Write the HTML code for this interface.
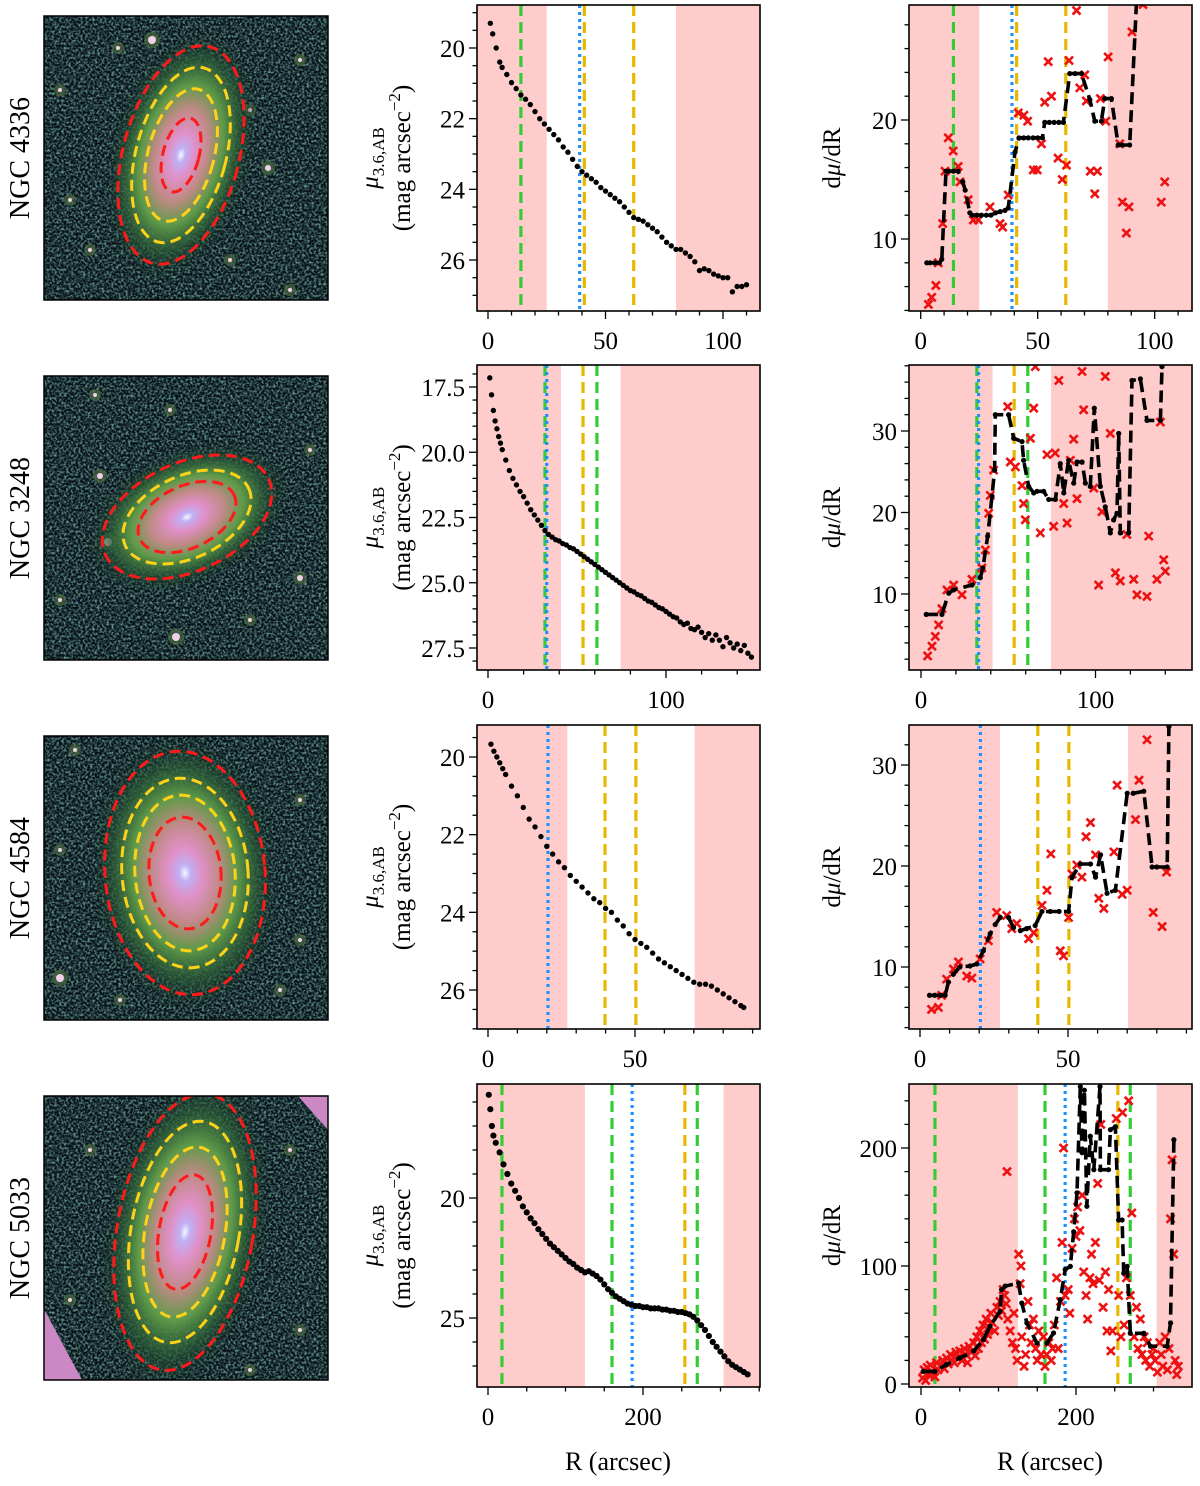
<!DOCTYPE html>
<html><head><meta charset="utf-8"><style>
html,body{margin:0;padding:0;background:#fff}
svg{display:block;font-family:"Liberation Serif",serif}
</style></head><body>
<svg id="fig" width="1200" height="1486" viewBox="0 0 1200 1486" xmlns="http://www.w3.org/2000/svg">
<defs>
<filter id="noise" x="0" y="0" width="100%" height="100%">
<feTurbulence type="fractalNoise" baseFrequency="0.42" numOctaves="2" seed="7"/>
<feColorMatrix values="0 0 0 0 0.13  0 0 0 0 0.33  0 0 0 0 0.27  2.6 0 0 0 -1.05"/>
</filter>
<radialGradient id="glow">
<stop offset="0" stop-color="#f4f8ff"/>
<stop offset="0.06" stop-color="#c0b0f4"/>
<stop offset="0.18" stop-color="#e090c8"/>
<stop offset="0.36" stop-color="#c08a86"/>
<stop offset="0.55" stop-color="#5e9a48"/>
<stop offset="0.75" stop-color="#2e6038" stop-opacity="0.75"/>
<stop offset="1" stop-color="#163028" stop-opacity="0"/>
</radialGradient>
</defs>
</svg>
<script>
// ---------- DATA ----------
const R1P_R=[1,2,3.5,5,6,8,10,12,14,16,18,20,22,24,26,28,30,32,34,36,38,40,42,44,46,48,50,52,54,56,58,60,62,64,66,68,70,72,74,76,78,80,82,84,86,88,90,92,94,96,98,100,102,104,106,108,110];
const R1P_MU=[19.3,19.6,20.0,20.4,20.55,20.75,20.98,21.15,21.33,21.45,21.6,21.8,22.0,22.15,22.3,22.45,22.6,22.8,22.95,23.15,23.35,23.5,23.6,23.7,23.8,23.95,24.05,24.15,24.25,24.35,24.5,24.65,24.8,24.85,24.9,25.0,25.1,25.2,25.35,25.5,25.6,25.7,25.7,25.8,25.9,26.05,26.3,26.25,26.3,26.4,26.45,26.5,26.5,26.9,26.75,26.75,26.7];
const R2P_R=[1,2,3,4,5,6,7,8,10,12,14,16,18,20,22,24,26,28,30,32,34,36,38,40,42,44,46,48,50,52,54,56,58,60,62,64,66,68,70,72,74,76,78,80,82,84,86,88,90,92,94,96,98,100,102,104,106,108,110,112,114,116,118,120,122,124,126,128,130,132,134,136,138,140,142,144,146,148];
const R2P_MU=[17.15,17.8,18.4,18.8,19.1,19.4,19.65,19.9,20.3,20.7,21.0,21.25,21.5,21.7,21.95,22.2,22.4,22.6,22.8,23.0,23.15,23.25,23.35,23.4,23.5,23.55,23.65,23.7,23.8,23.9,24.0,24.1,24.2,24.3,24.4,24.5,24.6,24.7,24.8,24.9,25.0,25.1,25.2,25.3,25.35,25.45,25.5,25.6,25.7,25.75,25.85,25.95,26.0,26.1,26.2,26.3,26.35,26.5,26.6,26.55,26.75,26.8,26.7,26.9,27.1,26.95,27.2,27.0,27.2,27.45,27.1,27.3,27.5,27.35,27.6,27.4,27.7,27.85];
const R3P_R=[1,2,3,4,5,6,8,10,12,14,16,18,20,22,24,26,28,30,32,34,36,38,40,42,44,46,48,50,52,54,56,58,60,62,64,66,68,70,72,74,76,78,80,82,84,86,87];
const R3P_MU=[19.67,19.85,20.0,20.15,20.3,20.45,20.75,21.0,21.3,21.6,21.8,22.05,22.3,22.5,22.7,22.85,23.05,23.2,23.35,23.5,23.65,23.75,23.9,24.0,24.2,24.35,24.55,24.7,24.8,24.9,25.05,25.2,25.3,25.4,25.5,25.6,25.7,25.8,25.85,25.85,25.9,26.0,26.1,26.2,26.3,26.4,26.45];
const R4P_R=[1,3,5,7,10,15,20,25,30,35,40,45,50,55,60,65,70,75,80,85,90,95,100,105,110,115,120,125,130,135,140,145,150,155,160,165,170,175,180,185,190,195,200,205,210,215,220,225,230,235,240,245,250,255,260,265,270,275,280,285,290,295,300,305,310,315,320,325,330,335];
const R4P_MU=[15.7,16.3,17.0,17.4,17.7,18.1,18.6,19.0,19.4,19.7,20.0,20.35,20.6,20.85,21.05,21.3,21.5,21.7,21.9,22.05,22.2,22.35,22.5,22.65,22.75,22.9,23.0,23.1,23.05,23.15,23.25,23.4,23.6,23.8,23.95,24.1,24.2,24.3,24.4,24.45,24.5,24.5,24.55,24.55,24.6,24.6,24.6,24.65,24.65,24.7,24.7,24.75,24.75,24.8,24.85,24.95,25.1,25.3,25.5,25.75,26.0,26.2,26.4,26.6,26.8,26.95,27.05,27.15,27.25,27.35];

const R1D_R=[2.6,4,6,8,9,10.8,12,14,16,18,19,21,22,24,26,28,30,32,34,36,37.4,40.3,42,44,46,48,50,52,53,55,57,59,61,63.7,66,68.7,72.3,74.4,77.2,78.7,81.5,84.4,86,89.3,92.2];
const R1D_V=[8,8,8,8,8.3,15.7,15.7,15.7,15.7,14.8,14.1,12.2,12,12,12,12,12,12.2,12.3,12.4,12.6,17.3,18.5,18.5,18.5,18.5,18.5,18.5,19.8,19.8,19.8,19.8,19.8,23.9,23.9,23.9,21.7,19.9,19.9,21.8,21.8,17.9,17.9,17.9,29.8];
const R1X=[[3.3,4.5],[4.7,5.1],[6.5,6.1],[7.5,8],[9.4,11.3],[10.4,15.7],[11.8,18.5],[13.9,17.4],[16,16.1],[16.8,14.8],[20.3,13.3],[22.5,11.6],[24.6,11.6],[29.6,12.7],[33.9,11.3],[35,11],[37.4,13.7],[41.7,20.6],[44.1,20.4],[45.7,19.9],[48.1,15.8],[49.8,15.8],[51.6,18],[53,21.5],[55.9,22],[54.5,24.9],[58.7,16.8],[60.5,15],[62.3,16.2],[63.4,25],[66.6,29.2],[68,22.7],[70.1,23.8],[70.8,21.6],[72.5,15.7],[74.4,13.8],[75.5,15.7],[76.8,21.8],[79.1,19.9],[80.1,25.3],[85.1,18],[86.2,13.1],[89,12.7],[87.9,10.5],[90.3,27.4],[95,29.7],[102.8,13.1],[104.3,14.8]];

const R2D_R=[3,12,15.9,18.7,29.2,34,35.5,38.2,40.7,42.2,42.6,50.2,53.1,57.9,58.8,61.7,64.6,66.5,70.3,73.2,77,79.8,81.8,84.6,87.5,89.4,92.3,94.2,97,99.3,102.8,105.6,108.5,110.4,112.3,113.3,114.2,119,120.9,125.7,129.5,137.2,138.1];
const R2D_V=[7.5,7.5,10.1,10.5,11.1,12,13.2,17.1,22,25.2,32,32,29.1,28.7,26.4,23.2,22.4,22.6,22.6,21.6,21.6,26,22.4,26.4,23.6,26.2,26.2,23.6,23.2,32.8,23.2,20.7,17.5,19.1,19.9,29.7,17.5,17.5,36.2,36.4,31.3,31.3,37.9];
const R2X=[[3.8,2.4],[6.3,3.6],[8.2,4.8],[10.1,6.2],[12,8.2],[14.9,10.5],[18.7,11.1],[23.5,9.9],[29.2,11.8],[34.9,13.2],[36.9,15.4],[38.8,19.9],[39.7,22.1],[41.6,25.2],[49.7,33],[51.2,26.2],[54.1,25.6],[57.9,23.3],[58.8,21.1],[59.8,19.1],[62.7,29.1],[64.6,32.8],[65.5,37.9],[68.4,17.5],[72.2,27.1],[76,18.3],[76.9,27.3],[79,36.2],[81.8,21.1],[83.7,18.7],[85.6,26.4],[87.5,29],[89.4,21.7],[92.3,37.3],[93.2,32.6],[99,23],[101.8,11.1],[103.7,20.1],[105.6,36.7],[108.5,29.7],[111.4,12.6],[114.2,11.6],[118,17.3],[121.9,11.8],[123.8,9.9],[129.5,9.7],[130.5,17.1],[135.2,11.8],[139.1,14.2],[140,12.8],[137.2,31.1]];

const R3D_R=[3.2,5,7,8.5,9.6,11.3,13.5,16.9,19.2,21.4,23.7,25.4,27.1,29.9,31.6,33.9,36,38.9,41.2,44,47,50.2,51.4,54.2,57.6,59.3,61,63.2,66,70,72,75.6,78.4,80,83.5,84.1];
const R3D_V=[7.2,7.2,7.2,7.2,8.5,9.3,10,10.1,10.3,11.6,13.3,14.2,14.9,14.9,13.9,13.6,13.8,14.1,15.5,15.5,15.5,15.5,18.9,20.2,20.2,18.9,21.1,17.3,17.6,27.2,27.2,27.4,19.9,19.9,19.9,33.8];
const R3X=[[3.9,5.8],[6.2,6],[7.3,7.2],[9,8.8],[11.3,9.8],[13,10.5],[15.8,9.1],[17.5,8.9],[20.3,10.8],[23.1,12.6],[25.9,15.4],[29.3,15.1],[31,13.8],[32.7,14.3],[36.7,12.8],[38.4,13.4],[41.2,16.1],[42.9,17.6],[44.2,21.2],[47.4,11.6],[48.5,11.1],[50.2,14.9],[51.4,19.2],[53,20.1],[54.7,18.9],[56.1,22.9],[57.6,24.3],[59.3,21.1],[60.4,16.8],[62.1,15.8],[65.5,21.4],[66.6,28],[68.3,17.2],[70,17.6],[72.8,24.6],[74,28.5],[76.7,32.5],[78.8,15.4],[81.8,14],[83.3,19.4]];

const R4D_R=[3,18,33,50,68,80.6,89,102,104,108.6,126,130,136.6,149.6,162.5,171,179.7,186,192.7,197,201.3,205.6,207.8,210.8,214,218.5,223,231,231.5,242,244.4,250.9,255,259.5,261.6,266,270,287.5,296,317.7,322,326.3];
const R4D_V=[10.7,10.7,16.4,22,28,37.6,49,61.6,80,83,85.6,68.6,51.7,34.7,34.7,43.2,71.5,97,99.7,129,162,252,196,249,150.6,210,181.6,252,181.6,181.6,215.5,218,139,139,94,99.7,43,43,32,32,51.7,207];
const R4X=[[2,5],[4,12],[6,3],[8,14],[10,8],[12,16],[15,10],[18,6],[20,18],[22,12],[25,15],[28,20],[30,13],[33,22],[35,17],[38,25],[40,20],[43,18],[45,27],[48,22],[50,28],[53,20],[56,30],[58,25],[60,18],[62,32],[65,27],[68,35],[70,24],[72,40],[74,30],[76,45],[78,35],[80,50],[82,38],[84,55],[86,42],[88,48],[90,60],[92,52],[95,45],[98,65],[100,58],[102,70],[104,62],[106,80],[108,75],[110,68],[111,180],[112,55],[115,45],[118,35],[120,60],[122,30],[124,20],[126,110],[128,85],[129,100],[130,40],[133,15],[135,25],[138,70],[140,50],[142,35],[145,55],[148,30],[150,20],[152,45],[155,25],[158,40],[160,15],[162,25],[165,35],[168,20],[170,30],[172,50],[175,90],[177,30],[180,70],[182,120],[184,200],[186,75],[190,80],[192,60],[195,115],[198,140],[200,125],[202,150],[205,130],[208,160],[210,95],[213,75],[215,55],[218,90],[220,110],[222,85],[225,120],[228,170],[230,88],[232,220],[235,65],[238,95],[240,45],[242,80],[245,28],[247,45],[250,260],[252,225],[255,75],[258,40],[260,230],[262,50],[265,90],[268,240],[270,75],[272,145],[275,40],[278,65],[280,30],[283,55],[285,25],[288,40],[290,20],[292,35],[295,15],[298,25],[300,30],[302,20],[305,10],[308,35],[310,25],[312,15],[315,40],[318,12],[320,30],[322,140],[324,190],[326,110],[328,20],[330,8],[332,15]];

const SPANS=[[25,80],[41,74.5],[27,70.3],[125,304]];
const VL_POS=[[14,39,41,62],[32,33,53.4,61.2],[20.4,39.8,50.3],[18,160,186,254,270]];
const VL_KIND=[["g","b","y","y"],["g","b","y","g"],["b","y","y"],["g","g","b","y","g"]];
const NAMES=["NGC 4336","NGC 3248","NGC 4584","NGC 5033"];

// ---------- LAYOUT ----------
const ROWS=[
 {y0:5,y1:311,img:16},
 {y0:365,y1:670,img:376},
 {y0:725,y1:1029,img:736},
 {y0:1084,y1:1387,img:1096}];
const P2=[
 {xa:[0,488,100,723],ya:[20,48,26,260],xmaj:50,xmin:10,ymaj:2,ymin:0.5,dec:0},
 {xa:[0,488,100,666],ya:[17.5,387,27.5,648],xmaj:100,xmin:20,ymaj:2.5,ymin:0.5,dec:1},
 {xa:[0,488,50,635],ya:[20,757,26,990],xmaj:50,xmin:10,ymaj:2,ymin:0.5,dec:0},
 {xa:[0,488,200,643],ya:[20,1198,25,1318],xmaj:200,xmin:50,ymaj:5,ymin:1,dec:0}];
const P3=[
 {xa:[0,920.7,50,1037.7],ya:[20,120,10,239],xmaj:50,xmin:10,ymaj:10,ymin:2,dec:0},
 {xa:[0,921,100,1095.5],ya:[30,431,10,594],xmaj:100,xmin:20,ymaj:10,ymin:2,dec:0},
 {xa:[0,920,50,1068],ya:[30,765,10,967],xmaj:50,xmin:10,ymaj:10,ymin:2,dec:0},
 {xa:[0,921,200,1076],ya:[0,1384,200,1148],xmaj:200,xmin:50,ymaj:100,ymin:20,dec:0}];
const IMGS=[
 {cx:181,cy:155,ang:15,glow:[72,130],el:[[58,112,"r"],[45,90,"y"],[33,68,"y"],[18,38,"r"]],stars:[[152,40,4],[268,168,3],[60,90,2],[300,60,2],[230,260,2],[90,250,2],[290,290,2],[70,200,2],[250,110,2],[118,48,2]]},
 {cx:187,cy:517,ang:-25,glow:[108,68],el:[[90,54,"r"],[68,41,"y"],[52,31,"r"]],stars:[[108,542,4],[176,637,4],[100,476,3],[300,578,3],[95,395,2],[170,410,2],[310,450,2],[250,620,2],[60,600,2]]},
 {cx:185,cy:873,ang:-5,glow:[95,140],el:[[80,122,"r"],[63,95,"y"],[50,78,"y"],[36,56,"r"]],stars:[[60,978,4],[75,750,2],[300,800,2],[280,990,2],[120,1000,2],[300,940,2],[60,850,2]]},
 {cx:185,cy:1232,ang:10,glow:[82,162],el:[[68,140,"r"],[54,112,"y"],[40,86,"y"],[26,58,"r"]],stars:[[70,1300,2],[290,1150,2],[300,1330,2],[90,1150,2],[250,1370,2]]}];
const COLS={g:"#33cc33",b:"#1e90ff",y:"#e8b800",r:"#ff1a1a"};

const NS="http://www.w3.org/2000/svg";
const svg=document.getElementById("fig");
function mk(tag,attrs,parent){const e=document.createElementNS(NS,tag);for(const k in attrs)e.setAttribute(k,attrs[k]);(parent||svg).appendChild(e);return e;}
function lin(a){return v=>a[1]+(v-a[0])*(a[3]-a[1])/(a[2]-a[0]);}
function inv(a){return p=>a[0]+(p-a[1])*(a[2]-a[0])/(a[3]-a[1]);}

function drawAxes(g,cfg,x0,x1,y0,y1,ri){
  const X=lin(cfg.xa),Y=lin(cfg.ya),IX=inv(cfg.xa),IY=inv(cfg.ya);
  const bg=mk("rect",{x:x0,y:y0,width:x1-x0,height:y1-y0,fill:"#ffcccc"},g);
  
  
  const wx0=Math.max(x0,X(SPANS[ri][0])),wx1=Math.min(x1,X(SPANS[ri][1]));
  const wr=mk("rect",{x:wx0,y:y0,width:wx1-wx0,height:y1-y0,fill:"#ffffff"},g);
  
  
  VL_POS[ri].forEach((p,i)=>{
    const k=VL_KIND[ri][i];
    const ln=mk("line",{x1:X(p),x2:X(p),y1:y0,y2:y1,stroke:COLS[k],"stroke-width":3.2,"stroke-dasharray":k==="b"?"3,4":"11,6"},g);
    
    
  });
  const xlo=IX(x0),xhi=IX(x1);
  for(let v=Math.ceil(xlo/cfg.xmin)*cfg.xmin;v<=xhi+1e-9;v+=cfg.xmin){
    const major=Math.abs(v/cfg.xmaj-Math.round(v/cfg.xmaj))<1e-6;
    const t=mk("line",{x1:X(v),x2:X(v),y1:y1,y2:y1+(major?8:4.5),stroke:"#000","stroke-width":1.3},g);
    
    
    if(major){
      const tl=mk("text",{x:X(v),y:y1+38,"font-size":25,"text-anchor":"middle"},g);
      tl.textContent=String(Math.round(v));
      
      
    }
  }
  const ya=IY(y0),yb=IY(y1),ylo=Math.min(ya,yb),yhi=Math.max(ya,yb);
  for(let v=Math.ceil(ylo/cfg.ymin-1e-9)*cfg.ymin;v<=yhi+1e-9;v+=cfg.ymin){
    const major=Math.abs(v/cfg.ymaj-Math.round(v/cfg.ymaj))<1e-6;
    const t=mk("line",{x1:x0,x2:x0-(major?8:4.5),y1:Y(v),y2:Y(v),stroke:"#000","stroke-width":1.3},g);
    
    
    if(major){
      const tl=mk("text",{x:x0-12,y:Y(v)+9,"font-size":25,"text-anchor":"end"},g);
      tl.textContent=v.toFixed(cfg.dec);
      
      
    }
  }
  return {X,Y};
}

function frame(g,x0,x1,y0,y1){
  const f=mk("rect",{x:x0,y:y0,width:x1-x0,height:y1-y0,fill:"none",stroke:"#000","stroke-width":1.6},g);
  
  
}

const PROF_R=[R1P_R,R2P_R,R3P_R,R4P_R],PROF_MU=[R1P_MU,R2P_MU,R3P_MU,R4P_MU];
const DR=[R1D_R,R2D_R,R3D_R,R4D_R],DV=[R1D_V,R2D_V,R3D_V,R4D_V],DX=[R1X,R2X,R3X,R4X];

ROWS.forEach((row,ri)=>{
  const im=IMGS[ri];
  const gi=mk("g",{});
  
  
  const cid="clipimg"+ri;
  const cp=mk("clipPath",{id:cid},gi);
  mk("rect",{x:44,y:row.img,width:284,height:284},cp);
  const gc=mk("g",{"clip-path":"url(#"+cid+")"},gi);
  mk("rect",{x:44,y:row.img,width:284,height:284,fill:"#08121c"},gc);
  mk("rect",{x:44,y:row.img,width:284,height:284,filter:"url(#noise)"},gc);
  if(ri===3){
    const c1=mk("polygon",{points:"44,1309 44,1380 82,1380",fill:"#cc88c4"},gc);
    
    
    const c2=mk("polygon",{points:"298,1096 328,1096 328,1130",fill:"#cc88c4"},gc);
    
    
  }
  im.stars.forEach(s=>{
    mk("circle",{cx:s[0],cy:s[1],r:s[2]+4,fill:"#4a6a40",opacity:0.7},gc);
    mk("circle",{cx:s[0],cy:s[1],r:s[2],fill:"#f0d0e8"},gc);
  });
  const gl=mk("ellipse",{cx:im.cx,cy:im.cy,rx:im.glow[0],ry:im.glow[1],fill:"url(#glow)",transform:`rotate(${im.ang} ${im.cx} ${im.cy})`},gc);
  
  
  im.el.forEach(e=>{
    const el=mk("ellipse",{cx:im.cx,cy:im.cy,rx:e[0],ry:e[1],fill:"none",stroke:e[2]==="r"?"#ff1a1a":"#ffd21a","stroke-width":3,"stroke-dasharray":"11,6",transform:`rotate(${im.ang} ${im.cx} ${im.cy})`},gc);
    
    
  });
  mk("rect",{x:44,y:row.img,width:284,height:284,fill:"none",stroke:"#000","stroke-width":1.5},gi);
  const nm=mk("text",{x:0,y:0,"font-size":28,"text-anchor":"middle",transform:`translate(29 ${row.img+142}) rotate(-90)`});
  nm.textContent=NAMES[ri];
  
  

  const g2=mk("g",{});
  
  
  const a2=drawAxes(g2,P2[ri],477,760,row.y0,row.y1,ri);
  const c2id="clip2_"+ri;
  const cp2=mk("clipPath",{id:c2id},g2);
  mk("rect",{x:477,y:row.y0,width:283,height:row.y1-row.y0},cp2);
  const gd2=mk("g",{"clip-path":"url(#"+c2id+")"},g2);
  PROF_R[ri].forEach((r,i)=>{
    const d=mk("circle",{cx:a2.X(r),cy:a2.Y(PROF_MU[ri][i]),r:ri===3?3.1:2.7,fill:"#000"},gd2);
    
    
  });
  frame(g2,477,760,row.y0,row.y1);
  const yl=mk("text",{x:0,y:0,"font-size":25,"text-anchor":"middle",transform:`translate(378 ${(row.y0+row.y1)/2}) rotate(-90)`},g2);
  yl.innerHTML='<tspan font-style="italic">μ</tspan><tspan font-size="17" dy="6">3.6,AB</tspan>';
  
  
  const yl2=mk("text",{x:0,y:0,"font-size":25,"text-anchor":"middle",transform:`translate(410 ${(row.y0+row.y1)/2}) rotate(-90)`},g2);
  yl2.innerHTML='(mag arcsec<tspan font-size="17" dy="-10">−2</tspan><tspan dy="10">)</tspan>';
  
  

  const g3=mk("g",{});
  
  
  const a3=drawAxes(g3,P3[ri],909,1192,row.y0,row.y1,ri);
  const c3id="clip3_"+ri;
  const cp3=mk("clipPath",{id:c3id},g3);
  mk("rect",{x:909,y:row.y0,width:283,height:row.y1-row.y0},cp3);
  const gd3=mk("g",{"clip-path":"url(#"+c3id+")"},g3);
  DX[ri].forEach(p=>{
    const x=a3.X(p[0]),y=a3.Y(p[1]),s=4;
    const cr=mk("path",{d:`M${x-s},${y-s}L${x+s},${y+s}M${x-s},${y+s}L${x+s},${y-s}`,stroke:"#ee1111","stroke-width":2.6,fill:"none"},gd3);
    
    
  });
  const pts=DR[ri].map((r,i)=>a3.X(r).toFixed(1)+","+a3.Y(DV[ri][i]).toFixed(1)).join(" ");
  const pl=mk("polyline",{points:pts,fill:"none",stroke:"#000","stroke-width":3.6,"stroke-dasharray":"12,6","stroke-linejoin":"round"},gd3);
  
  
  DR[ri].forEach((r,i)=>{
    const d=mk("circle",{cx:a3.X(r),cy:a3.Y(DV[ri][i]),r:2.6,fill:"#000"},gd3);
    
    
  });
  frame(g3,909,1192,row.y0,row.y1);
  const yl3=mk("text",{x:0,y:0,"font-size":25,"text-anchor":"middle",transform:`translate(840 ${(row.y0+row.y1)/2}) rotate(-90)`},g3);
  yl3.innerHTML='d<tspan font-style="italic">μ</tspan>/dR';
  
  
});

const xl1=mk("text",{x:618,y:1470,"font-size":26,"text-anchor":"middle"});
xl1.textContent="R (arcsec)";


const xl2=mk("text",{x:1050,y:1470,"font-size":26,"text-anchor":"middle"});
xl2.textContent="R (arcsec)";


</script>
</body></html>
